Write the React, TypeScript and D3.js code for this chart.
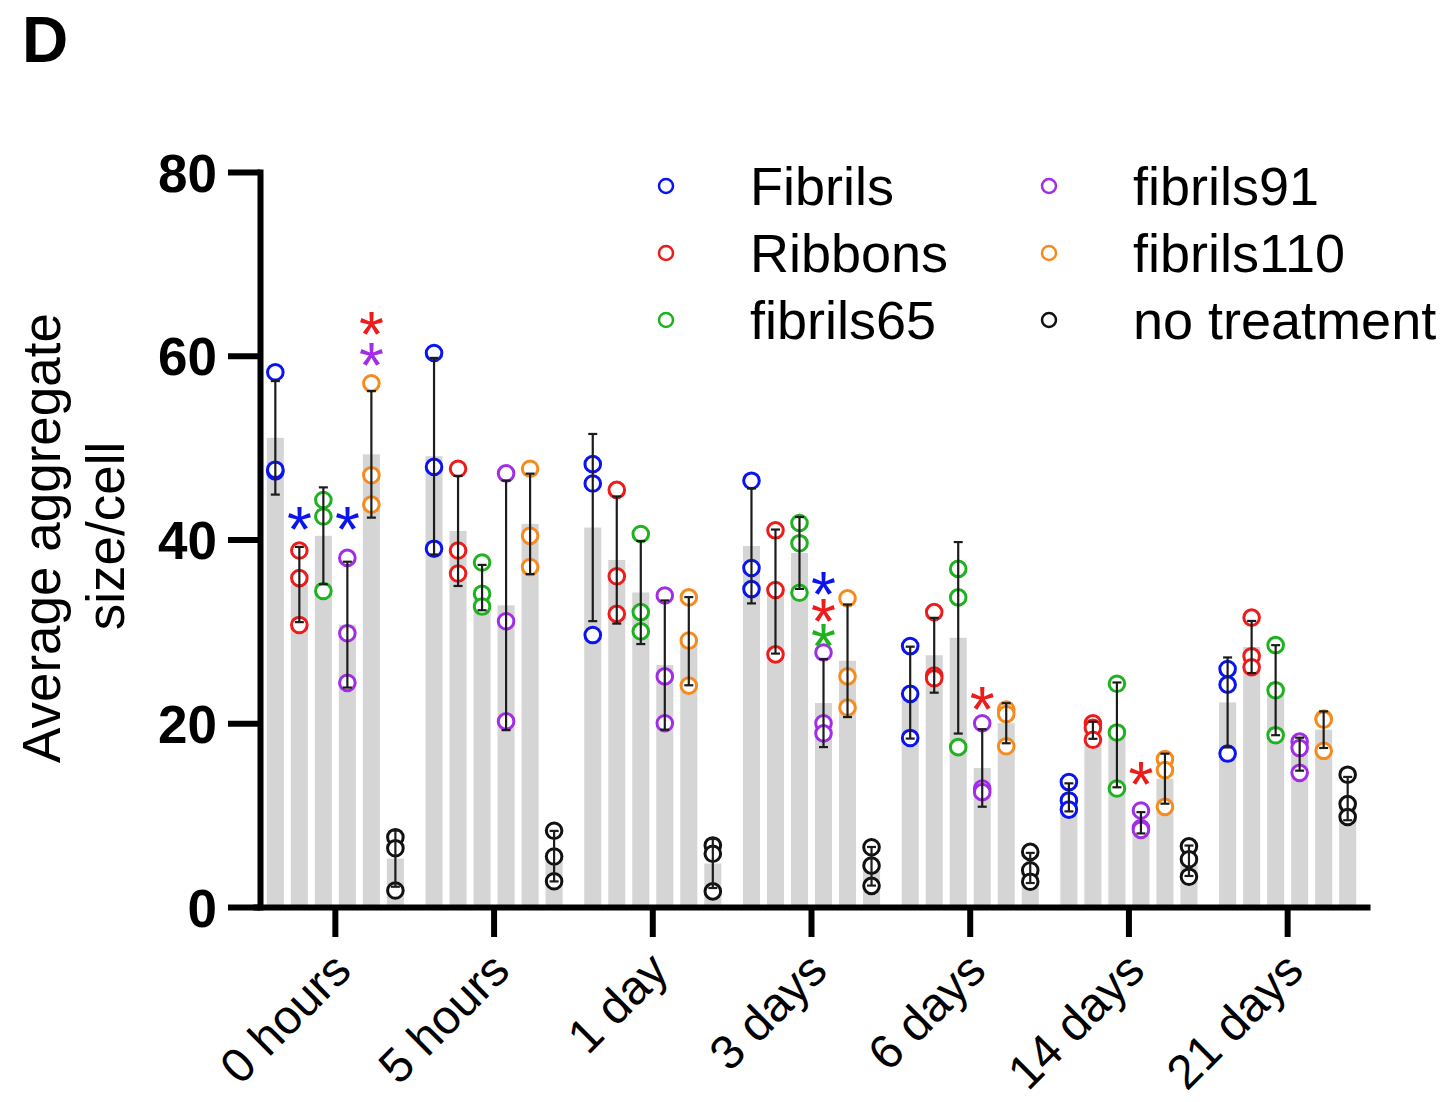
import * as d3 from "d3";
import { useEffect, useRef } from "react";

const timepoints = ["0 hours", "5 hours", "1 day", "3 days", "6 days", "14 days", "21 days"];
const seriesNames = ["Fibrils", "Ribbons", "fibrils65", "fibrils91", "fibrils110", "no treatment"];
const seriesColors = ["#0b14f0", "#ee1b1b", "#1fb21f", "#a12ee6", "#f58a1f", "#111111"];

// three replicates per time point, one row per time point
const fibrils = [[58.2, 47.4, 47.6], [60.3, 47.9, 39.0], [48.2, 46.1, 29.6], [46.4, 36.9, 34.6], [28.4, 23.2, 18.4], [13.6, 11.6, 10.6], [25.9, 24.2, 16.7]];
const ribbons = [[38.8, 35.8, 30.7], [47.7, 38.8, 36.3], [45.4, 36.0, 31.9], [41.0, 34.5, 27.5], [32.1, 25.2, 24.9], [20.0, 19.5, 18.2], [31.5, 27.3, 26.1]];
const fibrils65 = [[44.3, 42.5, 34.4], [37.5, 34.1, 32.7], [40.6, 32.1, 30.0], [41.8, 39.6, 34.2], [36.8, 33.7, 17.4], [24.3, 19.0, 12.9], [28.5, 23.6, 18.7]];
const fibrils91 = [[38.0, 29.8, 24.4], [47.2, 31.1, 20.2], [33.9, 25.1, 20.0], [27.7, 20.0, 18.9], [20.0, 12.9, 12.5], [10.5, 8.6, 8.4], [18.0, 17.3, 14.6]];
const fibrils110 = [[57.0, 47.0, 43.8], [47.7, 40.4, 37.0], [33.7, 29.0, 24.1], [33.6, 25.1, 21.7], [21.5, 21.0, 17.5], [16.1, 14.9, 10.9], [20.5, 20.4, 17.0]];
const noTreatment = [[7.6, 6.4, 1.8], [8.3, 5.5, 2.8], [6.7, 5.8, 1.7], [6.5, 4.5, 2.3], [6.0, 4.0, 2.75], [6.6, 5.2, 3.3], [14.4, 11.2, 9.8]];
const replicates = [fibrils, ribbons, fibrils65, fibrils91, fibrils110, noTreatment];

// significance stars: time point, bar it stands over, colour (series idx), height
const starTime = [0, 0, 0, 0, 3, 3, 3, 4, 5];
const starBar = [1, 3, 4, 4, 3, 3, 3, 3, 3];
const starColor = [0, 0, 1, 3, 0, 1, 2, 1, 1];
const starValue = [42.7, 42.7, 63.9, 60.5, 35.6, 32.7, 29.9, 23.1, 14.9];

const yTicks = [0, 20, 40, 60, 80];

const App = () => {
  const chartRef = useRef<SVGSVGElement | null>(null);

  useEffect(() => {
    document.body.style.margin = "0";
    drawChart();
  }, []);

  const drawChart = () => {
    if (!chartRef.current) return;
    const svg = d3.select(chartRef.current);
    svg.selectAll("*").remove();
    const font = "'Liberation Sans', Arial, sans-serif";

    const y = d3.scaleLinear().domain([0, 80]).range([907, 172]);
    const xGroup = d3.scaleBand().domain(timepoints).range([256, 1367]);
    const xBar = d3
      .scaleBand()
      .domain(seriesNames)
      .range([0, xGroup.bandwidth()])
      .paddingInner(0.29)
      .paddingOuter(0.45);

    const rows = timepoints.flatMap((t, ti) =>
      seriesNames.map((s, si) => {
        const vals = replicates[si][ti];
        return { t, s, si, vals, mean: d3.mean(vals)!, sd: d3.deviation(vals)! };
      })
    );
    const cx = (t: string, s: string) => xGroup(t)! + xBar(s)! + xBar.bandwidth() / 2;

    // title
    svg
      .append("text")
      .attr("x", 22)
      .attr("y", 62)
      .style("font-family", font)
      .style("font-weight", "bold")
      .style("font-size", "64px")
      .text("D");

    // bars (mean)
    svg
      .append("g")
      .selectAll("rect")
      .data(rows)
      .join("rect")
      .attr("x", (d) => xGroup(d.t)! + xBar(d.s)!)
      .attr("y", (d) => y(d.mean))
      .attr("width", xBar.bandwidth())
      .attr("height", (d) => y(0) - y(d.mean))
      .attr("fill", "#d5d5d5");

    // replicate points
    const pts = rows.flatMap((d) => d.vals.map((v) => ({ ...d, v })));
    svg
      .append("g")
      .selectAll("circle")
      .data(pts)
      .join("circle")
      .attr("cx", (d) => cx(d.t, d.s))
      .attr("cy", (d) => y(d.v))
      .attr("r", 7.8)
      .attr("fill", "white")
      .attr("stroke", (d) => seriesColors[d.si])
      .attr("stroke-width", 3);

    // error bars mean ± SD
    const eb = svg.append("g").attr("stroke", "#1c1c1c").attr("stroke-width", 2.2);
    eb.selectAll("line.v")
      .data(rows)
      .join("line")
      .attr("class", "v")
      .attr("x1", (d) => cx(d.t, d.s))
      .attr("x2", (d) => cx(d.t, d.s))
      .attr("y1", (d) => y(d.mean + d.sd))
      .attr("y2", (d) => y(Math.max(0, d.mean - d.sd)));
    const caps = rows.flatMap((d) => [d.mean + d.sd, d.mean - d.sd].filter((v) => v > 0).map((v) => ({ ...d, v })));
    eb.selectAll("line.c")
      .data(caps)
      .join("line")
      .attr("class", "c")
      .attr("x1", (d) => cx(d.t, d.s) - 4.5)
      .attr("x2", (d) => cx(d.t, d.s) + 4.5)
      .attr("y1", (d) => y(d.v))
      .attr("y2", (d) => y(d.v));

    // stars
    svg
      .append("g")
      .selectAll("text")
      .data(starValue)
      .join("text")
      .attr("x", (d, i) => cx(timepoints[starTime[i]], seriesNames[starBar[i]]))
      .attr("y", (d) => y(d) + 37)
      .attr("text-anchor", "middle")
      .style("font-family", font)
      .style("font-size", "64px")
      .style("fill", (d, i) => seriesColors[starColor[i]])
      .text("*");

    // Y axis
    const yAxis = svg
      .append("g")
      .attr("transform", "translate(260,0)")
      .call(d3.axisLeft(y).tickValues(yTicks).tickSize(32).tickSizeOuter(0).tickPadding(11));
    yAxis.select(".domain").attr("stroke-width", 6).attr("stroke-linecap", "square");
    yAxis.selectAll(".tick line").attr("stroke-width", 6);
    yAxis
      .selectAll(".tick text")
      .attr("dy", "0.36em")
      .style("font-family", font)
      .style("font-weight", "bold")
      .style("font-size", "53px")
      .style("fill", "#000");

    // X axis
    const xAxis = svg
      .append("g")
      .attr("transform", "translate(0,907)")
      .call(d3.axisBottom(xGroup).tickSize(30).tickSizeOuter(0));
    xAxis.select(".domain").attr("stroke-width", 6).attr("stroke-linecap", "square");
    xAxis.selectAll(".tick line").attr("stroke-width", 6);
    xAxis
      .selectAll(".tick text")
      .attr("y", null)
      .attr("dy", null)
      .attr("text-anchor", "end")
      .attr("transform", "translate(18,66) rotate(-45)")
      .style("font-family", font)
      .style("font-size", "48px")
      .style("fill", "#000");

    // Y label
    const yLab = svg.append("g").style("font-family", font).style("font-size", "53px");
    yLab.append("text").attr("transform", "translate(60,538) rotate(-90)").attr("text-anchor", "middle").text("Average aggregate");
    yLab.append("text").attr("transform", "translate(124,536) rotate(-90)").attr("text-anchor", "middle").text("size/cell");

    // legend
    const legend = svg
      .append("g")
      .selectAll("g")
      .data(seriesNames)
      .join("g")
      .attr("transform", (d, i) => `translate(${i < 3 ? 666 : 1049},${186 + (i % 3) * 67})`);
    legend
      .append("circle")
      .attr("r", 7)
      .attr("fill", "white")
      .attr("stroke", (d, i) => seriesColors[i])
      .attr("stroke-width", 2.5);
    legend
      .append("text")
      .attr("x", 84)
      .attr("dy", "0.36em")
      .style("font-family", font)
      .style("font-size", "54px")
      .text((d) => d);
  };

  return <svg ref={chartRef} width={1453} height={1102} style={{ display: "block", background: "white" }} />;
};

export default App;
